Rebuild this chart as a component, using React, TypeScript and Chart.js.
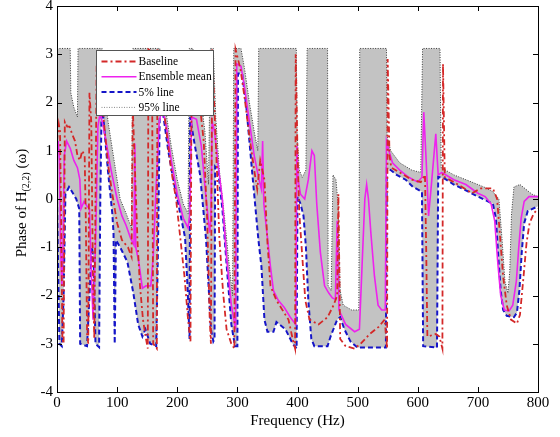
import React, { useEffect, useRef } from "react";
import { Chart, registerables } from "chart.js";

Chart.register(...registerables);

// ---------- Data (Frequency in Hz, phase in rad) ----------
const xTickValues = [0, 100, 200, 300, 400, 500, 600, 700, 800];
const yTickValues = [-4, -3, -2, -1, 0, 1, 2, 3, 4];

const baselineHz = [0, 3, 5, 7, 9, 11, 13, 17, 21, 25, 30, 34, 38, 42, 46, 48, 50, 52, 54, 57, 60, 62, 66, 70, 73, 78, 85, 92, 100, 108, 118, 124, 126, 130, 134, 138, 143, 148, 151, 152, 158, 160, 166, 167, 172, 180, 190, 198, 205, 212, 218, 222, 224, 230, 238, 244, 250, 254, 256, 258, 262, 266, 270, 276, 282, 290, 295, 297, 305, 312, 320, 328, 333, 338, 345, 350, 355, 365, 375, 385, 392, 396, 397, 400, 403, 408, 413, 420, 435, 450, 460, 466, 468, 471, 480, 495, 505, 520, 535, 545, 549, 550, 553, 556, 570, 590, 605, 612, 614, 616, 630, 636, 641, 642, 645, 660, 680, 690, 705, 725, 732, 737, 742, 748, 755, 765, 770, 776, 781, 786, 793, 800];
const baselinePhase = [1.2, 1.55, 1.4, -0.5, -2.9, -3.0, 1.6, 1.5, 1.5, 1.35, 1.2, 0.9, 0.8, 1.0, 0.9, -0.5, -2.8, -3.0, 2.2, 1.6, -1.8, -2.9, 2.8, 3.1, 2.3, 1.6, 0.7, 0.1, -0.5, -0.85, -1.0, -1.2, 1.9, 0.5, -0.9, -1.8, -2.5, -2.9, -3.1, 3.1, 3.05, -3.0, -3.1, 3.1, 2.5, 1.6, 0.6, 0.0, -0.8, -1.6, -2.5, -2.95, 3.0, 2.4, 1.9, 1.2, -0.5, -2.5, -3.0, 3.1, 1.8, 0.6, -0.8, -1.9, -2.7, -3.0, -3.1, 3.1, 2.7, 2.1, 1.3, 0.6, 0.2, 0.8, 0.4, -0.9, -1.8, -2.1, -2.3, -2.5, -2.9, -3.1, 3.0, 1.0, -0.3, -1.2, -2.1, -2.5, -2.6, -2.45, -2.2, -2.0, 0.1, -2.9, -3.05, -3.1, -3.0, -2.8, -2.65, -2.5, -3.1, 2.9, 0.9, 0.65, 0.55, 0.4, 0.35, 0.5, -1.0, -2.85, -2.8, -2.85, -3.1, 2.8, 0.45, 0.35, 0.2, 0.12, 0.22, 0.22, 0.0, -0.8, -1.6, -2.2, -2.5, -2.58, -2.4, -1.6, -0.9, -0.5, -0.3, -0.2];

const meanHz = [0, 2, 4, 6, 8, 10, 12, 16, 22, 28, 34, 38, 40, 45, 50, 54, 57, 60, 64, 68, 72, 80, 90, 100, 108, 115, 122, 128, 129.5, 131, 136, 142, 148, 156, 160, 165, 170, 175, 182, 190, 200, 210, 218, 221, 224, 232, 240, 248, 254, 256, 258, 262, 268, 275, 282, 290, 297, 299, 306, 312, 320, 328, 336, 340, 342, 344, 350, 355, 360, 368, 378, 388, 397, 399, 401, 405, 412, 418, 424, 428, 432, 438, 445, 452, 458, 463, 466, 469, 480, 495, 503, 507, 512, 515, 518, 522, 528, 534, 540, 546, 548, 552, 558, 570, 585, 600, 607, 610, 614, 618, 622, 630, 634, 640, 660, 680, 700, 712, 722, 728, 733, 738, 744, 752, 758, 764, 768, 772, 777, 785, 800];
const meanPhase = [1.0, 1.2, 0.8, -1.0, -1.8, -1.0, 0.9, 1.2, 1.05, 0.8, 0.65, 0.4, -0.2, -0.05, -0.15, -0.2, -1.5, -2.5, -1.0, 1.5, 1.8, 1.3, 0.6, 0.0, -0.35, -0.55, -0.8, -0.95, 1.15, -1.0, -1.3, -1.85, -1.8, -1.8, -1.2, 0.3, 1.6, 1.9, 1.5, 0.8, 0.1, -0.4, -0.6, -0.3, 1.7, 1.65, 1.1, 0.0, -0.7, -0.4, 1.6, 1.4, 0.7, 0.0, -1.2, -2.2, -2.7, 2.8, 2.75, 2.3, 1.6, 0.9, 0.4, 0.2, 1.2, -0.1, -0.8, -1.4, -1.9, -2.1, -2.25, -2.45, -2.6, 1.1, 0.4, 0.1, 0.0, 0.4, 1.0, 0.9, -0.1, -1.1, -1.8, -1.95, -2.05, -2.08, -0.45, -2.3, -2.6, -2.75, -2.7, -1.5, 0.0, 0.3, 0.0, -0.7, -1.6, -2.2, -2.3, -2.3, 1.2, 1.0, 0.75, 0.6, 0.45, 0.35, 0.45, 1.8, 0.8, -0.35, 0.2, 1.35, 0.5, 0.55, 0.4, 0.3, 0.12, 0.05, -0.1, -0.45, -1.3, -2.0, -2.3, -2.32, -2.2, -1.7, -1.0, -0.4, -0.05, 0.05, 0.05];

const p5Hz = [0, 2, 4, 8, 11, 14, 20, 25, 32, 37, 38.5, 50, 54, 58, 61, 64, 70, 72, 74, 77, 85, 92, 94, 96, 98, 105, 117, 127, 135, 142, 147, 155, 165, 168, 171, 175, 185, 195, 205, 213, 217, 220.5, 221.5, 228, 238, 248, 256, 260, 262, 263, 268, 275, 283, 290, 296, 300, 301, 308, 315, 325, 335, 340, 345, 350, 360, 365, 380, 392, 398.5, 400, 405, 410, 414, 418, 423, 428, 450, 455, 466, 471, 478, 488, 500, 547, 548.5, 555, 565, 580, 592, 607, 609, 632, 634, 645, 660, 680, 700, 712, 725, 730, 734, 738, 742, 748, 760, 765, 769, 773, 777, 783, 800];
const p5Phase = [0.0, -1.5, -3.0, -3.05, -2.0, 0.1, 0.25, 0.15, 0.0, -0.2, -3.0, -3.05, -2.0, -1.0, -1.3, -3.0, -3.07, 0.0, 1.7, 1.7, 0.55, -0.3, -0.7, -3.0, -0.85, -1.0, -1.3, -1.95, -2.6, -2.85, -2.7, -3.0, -3.05, -1.0, 1.9, 1.9, 1.0, 0.3, -0.3, -0.8, -1.8, -2.9, 1.7, 1.2, 0.5, -0.85, -2.7, -2.95, -2.9, 0.67, 0.6, -0.2, -1.5, -2.6, -3.05, -3.05, 2.6, 2.6, 1.9, 0.5, -0.85, -1.4, -2.5, -2.75, -2.75, -2.55, -2.7, -3.0, -3.1, 0.05, -0.1, -0.35, -1.0, -2.1, -2.9, -3.05, -3.05, -2.85, -2.5, -2.45, -2.7, -2.95, -3.08, -3.08, 0.63, 0.6, 0.5, 0.4, 0.25, 0.15, -3.05, -3.08, 0.46, 0.42, 0.3, 0.18, 0.05, -0.02, -0.1, -0.4, -1.2, -1.9, -2.3, -2.42, -2.45, -2.35, -1.9, -1.1, -0.5, -0.25, -0.15];

const p95Hz = [0, 22, 23, 28, 34, 35, 75, 77, 85, 95, 105, 115, 124, 126, 171, 173, 180, 190, 200, 210, 218, 220, 226, 232, 240, 246, 252, 255, 260, 264, 270, 278, 285, 292, 294, 306, 312, 320, 328, 334, 335.5, 398, 399.5, 403, 408, 414, 416, 450, 451, 456, 459, 464, 468, 471, 476, 490, 502, 503.5, 548, 549, 555, 570, 590, 605, 608, 637, 639, 660, 690, 710, 725, 735, 740, 745, 750, 753, 756, 760, 770, 780, 790, 800];
const p95Phase = [3.12, 3.12, 2.2, 1.9, 1.7, 3.12, 3.12, 2.4, 1.6, 0.8, 0.0, -0.3, -0.6, 3.12, 3.12, 2.4, 1.9, 1.1, 0.4, -0.1, -0.3, 3.12, 3.12, 2.5, 2.0, 1.4, 0.3, 3.12, 3.12, 1.7, 0.6, -0.3, -1.2, -2.0, 3.12, 3.12, 2.7, 2.0, 1.4, 1.0, 3.12, 3.12, 1.3, 0.6, 0.45, 0.6, 3.12, 3.12, -1.8, -1.9, 0.5, 0.4, -0.2, -1.9, -2.2, -2.3, -2.3, 3.12, 3.12, 1.3, 1.0, 0.75, 0.6, 0.55, 3.12, 3.12, 0.65, 0.5, 0.35, 0.25, 0.15, 0.0, -0.8, -1.7, -1.95, -1.5, -0.3, 0.25, 0.3, 0.2, 0.1, 0.05];

const seriesLabels = ["Baseline", "Ensemble mean", "5% line", "95% line"];

// ---------- Styles ----------
const SERIF = '"Liberation Serif", "Times New Roman", serif';
const RED = "#d42828";
const MAGENTA = "#ee22ee";
const BLUE = "#1515c8";
const DOTTED = "#3a3a3a";
const BAND = "#c3c3c3";

const toPoints = (xs: number[], ys: number[]) => xs.map((x, i) => ({ x, y: ys[i] }));

const legendStyles = [
  { color: RED, width: 1.8, dash: [6, 3, 2, 3] },
  { color: MAGENTA, width: 1.6, dash: [] as number[] },
  { color: BLUE, width: 2, dash: [5, 3] },
  { color: "#8a8a8a", width: 1, dash: [1, 1.5] },
];

// gray ensemble band between the 5% and 95% lines, positioned through the chart's scales
const bandPlugin = {
  id: "ensembleBand",
  beforeDatasetsDraw(chart: any) {
    const { ctx, chartArea: a, scales } = chart;
    const sx = scales.x;
    const sy = scales.y;
    ctx.save();
    ctx.beginPath();
    ctx.rect(a.left, a.top, a.right - a.left, a.bottom - a.top);
    ctx.clip();
    ctx.beginPath();
    p95Hz.forEach((h, i) => {
      const px = sx.getPixelForValue(h);
      const py = sy.getPixelForValue(p95Phase[i]);
      if (i === 0) ctx.moveTo(px, py);
      else ctx.lineTo(px, py);
    });
    for (let i = p5Hz.length - 1; i >= 0; i--) {
      ctx.lineTo(sx.getPixelForValue(p5Hz[i]), sy.getPixelForValue(p5Phase[i]));
    }
    ctx.closePath();
    ctx.fillStyle = BAND;
    ctx.fill();
    ctx.restore();
  },
};

const framePlugin = {
  id: "matlabFrame",
  afterDraw(chart: any) {
    const { ctx, chartArea: a, scales } = chart;
    const sx = scales.x;
    const sy = scales.y;
    ctx.save();
    ctx.setLineDash([]);
    ctx.strokeStyle = "#000";
    ctx.lineWidth = 1;
    ctx.beginPath();
    xTickValues.forEach((v) => {
      const px = Math.round(sx.getPixelForValue(v)) + 0.5;
      ctx.moveTo(px, a.bottom);
      ctx.lineTo(px, a.bottom - 5);
      ctx.moveTo(px, a.top);
      ctx.lineTo(px, a.top + 5);
    });
    yTickValues.forEach((v) => {
      const py = Math.round(sy.getPixelForValue(v)) + 0.5;
      ctx.moveTo(a.left, py);
      ctx.lineTo(a.left + 5, py);
      ctx.moveTo(a.right, py);
      ctx.lineTo(a.right - 5, py);
    });
    ctx.stroke();
    ctx.strokeRect(Math.round(a.left) + 0.5, Math.round(a.top) + 0.5, Math.round(a.right - a.left), Math.round(a.bottom - a.top));
    ctx.restore();
  },
};

const legendPlugin = {
  id: "boxLegend",
  afterDraw(chart: any) {
    const { ctx, chartArea: a } = chart;
    const x0 = Math.round(a.left + 39) + 0.5;
    const y0 = Math.round(a.top + 44) + 0.5;
    const w = 117;
    const h = 65;
    ctx.save();
    ctx.fillStyle = "#fff";
    ctx.fillRect(x0, y0, w, h);
    ctx.strokeStyle = "#555";
    ctx.lineWidth = 1;
    ctx.setLineDash([]);
    ctx.strokeRect(x0, y0, w, h);
    ctx.font = `11.5px ${SERIF}`;
    ctx.textBaseline = "middle";
    ctx.textAlign = "left";
    seriesLabels.forEach((label, i) => {
      const cy = y0 + 11 + i * 15.3;
      const st = legendStyles[i];
      ctx.beginPath();
      ctx.strokeStyle = st.color;
      ctx.lineWidth = st.width;
      ctx.setLineDash(st.dash);
      ctx.moveTo(x0 + 5, cy);
      ctx.lineTo(x0 + 40, cy);
      ctx.stroke();
      ctx.setLineDash([]);
      ctx.fillStyle = "#000";
      ctx.fillText(label, x0 + 42, cy + 0.5);
    });
    ctx.restore();
  },
};

const yTitlePlugin = {
  id: "yTitle",
  afterDraw(chart: any) {
    const { ctx, chartArea: a } = chart;
    const big = `15px ${SERIF}`;
    const small = `10px ${SERIF}`;
    const parts = [
      { t: "Phase of H", f: big, dy: 0 },
      { t: "(2,2)", f: small, dy: 4 },
      { t: " (\u03c9)", f: big, dy: 0 },
    ];
    ctx.save();
    let total = 0;
    const widths = parts.map((p) => {
      ctx.font = p.f;
      const wd = ctx.measureText(p.t).width;
      total += wd;
      return wd;
    });
    ctx.translate(22, (a.top + a.bottom) / 2 + 4);
    ctx.rotate(-Math.PI / 2);
    ctx.fillStyle = "#000";
    ctx.textBaseline = "middle";
    ctx.textAlign = "left";
    let x = -total / 2;
    parts.forEach((p, i) => {
      ctx.font = p.f;
      ctx.fillText(p.t, x, p.dy);
      x += widths[i];
    });
    ctx.restore();
  },
};

export default function App() {
  const canvasRef = useRef<HTMLCanvasElement | null>(null);

  useEffect(() => {
    const canvas = canvasRef.current;
    if (!canvas) return;
    const chart = new Chart(canvas, {
      type: "line",
      data: {
        datasets: [
          {
            label: seriesLabels[0],
            data: toPoints(baselineHz, baselinePhase),
            borderColor: RED,
            borderWidth: 1.8,
            borderDash: [6, 3, 2, 3],
            pointRadius: 0,
            fill: false,
          },
          {
            label: seriesLabels[1],
            data: toPoints(meanHz, meanPhase),
            borderColor: MAGENTA,
            borderWidth: 1.6,
            pointRadius: 0,
            fill: false,
          },
          {
            label: seriesLabels[2],
            data: toPoints(p5Hz, p5Phase),
            borderColor: BLUE,
            borderWidth: 2,
            borderDash: [5, 3],
            pointRadius: 0,
            fill: false,
          },
          {
            label: seriesLabels[3],
            data: toPoints(p95Hz, p95Phase),
            borderColor: DOTTED,
            borderWidth: 1,
            borderDash: [1, 1.5],
            pointRadius: 0,
            fill: false,
          },
        ],
      },
      options: {
        responsive: false,
        animation: false,
        events: [],
        layout: { padding: { top: 6, right: 22, left: 0, bottom: 0 } },
        elements: { line: { tension: 0 }, point: { radius: 0 } },
        plugins: {
          legend: { display: false },
          tooltip: { enabled: false },
        },
        scales: {
          x: {
            type: "linear",
            min: 0,
            max: 800,
            grid: { display: false, drawTicks: false },
            border: { display: false },
            ticks: {
              stepSize: 100,
              color: "#000",
              padding: 2,
              maxRotation: 0,
              font: { family: SERIF, size: 15 },
            },
            title: {
              display: true,
              text: "Frequency (Hz)",
              color: "#000",
              font: { family: SERIF, size: 15 },
              padding: { top: 0, bottom: 7 },
            },
            afterFit: (s: any) => {
              s.height = 45;
              s.paddingLeft = 0;
              s.paddingRight = 0;
            },
          },
          y: {
            type: "linear",
            min: -4,
            max: 4,
            grid: { display: false, drawTicks: false },
            border: { display: false },
            ticks: {
              stepSize: 1,
              color: "#000",
              padding: 4,
              font: { family: SERIF, size: 15 },
            },
            afterFit: (s: any) => {
              s.width = 57;
              s.paddingTop = 0;
              s.paddingBottom = 0;
            },
          },
        },
      },
      plugins: [bandPlugin, framePlugin, legendPlugin, yTitlePlugin],
    } as any);
    return () => chart.destroy();
  }, []);

  return (
    <div style={{ position: "fixed", left: 0, top: 0, width: 560, height: 437, background: "#fff" }}>
      <canvas ref={canvasRef} width={560} height={437} style={{ display: "block" }} />
    </div>
  );
}
